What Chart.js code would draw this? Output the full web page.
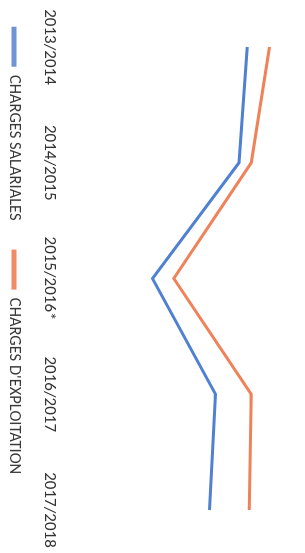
<!DOCTYPE html>
<html>
<head>
<meta charset="utf-8">
<script src="https://cdn.jsdelivr.net/npm/chart.js@4/dist/chart.umd.min.js"></script>
<style>
  html, body { margin: 0; padding: 0; background: #fff; overflow: hidden; width: 305px; height: 553px; }
  #wrap { position: absolute; left: 0; top: 0; width: 553px; height: 305px;
          transform-origin: 0 0; transform: translateX(305px) rotate(90deg); }
</style>
</head>
<body>
<div id="wrap"><canvas id="c" width="553" height="305"></canvas></div>
<script>
const categories = ["2013/2014", "2014/2015", "2015/2016*", "2016/2017", "2017/2018"];
const seriesNames = ["CHARGES SALARIALES", "CHARGES D'EXPLOITATION"];
const chargesSalariales = [248, 240, 155, 217, 211];
const chargesExploitation = [270, 252, 176, 252, 250];

const FONT = 'Carlito, "Liberation Sans Narrow", "Liberation Sans", sans-serif';

const legendPlace = {
  id: 'legendPlace',
  afterLayout(chart) {
    const lg = chart.legend;
    if (!lg) return;
    lg.left -= 26; lg.right -= 26;
    const h = lg.height;
    lg.top = 253.75; lg.bottom = lg.top + h;
  }
};

new Chart(document.getElementById('c'), {
  type: 'line',
  data: {
    labels: categories,
    datasets: [
      { label: seriesNames[0], data: chargesSalariales, borderColor: '#4f80d2', backgroundColor: '#6f95d8',
        borderWidth: 3, pointRadius: 0, tension: 0 },
      { label: seriesNames[1], data: chargesExploitation, borderColor: '#f0825a', backgroundColor: '#f28a66',
        borderWidth: 3, pointRadius: 0, tension: 0 }
    ]
  },
  options: {
    responsive: false,
    animation: false,
    layout: { padding: { left: 0, right: 0, top: 10, bottom: -19 } },
    plugins: {
      legend: {
        position: 'bottom',
        labels: {
          font: { family: FONT, size: 16.5 }, color: '#3a3a3a', boxWidth: 40, boxHeight: 5, padding: 29,
          generateLabels(chart) {
            return Chart.defaults.plugins.legend.labels.generateLabels(chart).map(l => Object.assign(l, { lineWidth: 0 }));
          }
        }
      },
      tooltip: { enabled: false }
    },
    scales: {
      x: {
        grid: { display: false, drawTicks: false },
        border: { display: false },
        ticks: { font: { family: FONT, size: 17 }, color: '#333', padding: 3, maxRotation: 0, autoSkip: false }
      },
      y: {
        position: 'left',
        min: 67, max: 295,
        grid: { display: false, drawTicks: false },
        border: { display: false },
        ticks: { display: false },
        afterFit(axis) { axis.width = 47; }
      },
      y2: {
        position: 'right',
        grid: { display: false, drawTicks: false },
        border: { display: false },
        ticks: { display: false },
        afterFit(axis) { axis.width = 43; }
      }
    }
  },
  plugins: [legendPlace]
});
</script>
</body>
</html>
